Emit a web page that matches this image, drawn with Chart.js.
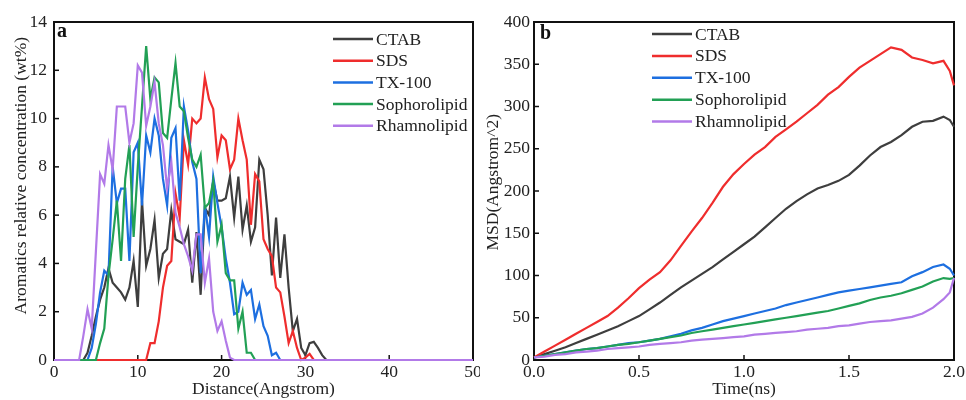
<!DOCTYPE html>
<html>
<head>
<meta charset="utf-8">
<script src="https://cdn.jsdelivr.net/npm/chart.js@4.4.0/dist/chart.umd.min.js"></script>
<style>
  body { margin: 0; background: #fff; }
  #wrap { position: relative; width: 966px; height: 400px; }
  #chartA { position: absolute; left: 0; top: 0; }
  #chartB { position: absolute; left: 480px; top: 0; }
</style>
</head>
<body>
<div id="wrap">
  <canvas id="chartA" width="480" height="400"></canvas>
  <canvas id="chartB" width="486" height="400"></canvas>
</div>
<script>
// ---- data ----
const seriesNames = ['CTAB', 'SDS', 'TX-100', 'Sophorolipid', 'Rhamnolipid'];
const seriesColors = ['#3e3e3e', '#ef2d2d', '#1d6fe0', '#22a055', '#b27ae8'];

// panel a: distance (Angstrom)
const distance = [0,
  3, 3.5, 4, 4.5, 5, 5.5, 6, 6.5, 7, 7.5, 8, 8.5, 9, 9.5, 10, 10.5, 11, 11.5, 12, 12.5,
  13, 13.5, 14, 14.5, 15, 15.5, 16, 16.5, 17, 17.5, 18, 18.5, 19, 19.5, 20, 20.5, 21, 21.5, 22, 22.5,
  23, 23.5, 24, 24.5, 25, 25.5, 26, 26.5, 27, 27.5, 28, 28.5, 29, 29.5, 30, 30.5, 31, 31.5, 32, 32.5, 33,
  50];
const ctabConc = [0,
  0, 0, 0.3, 1.0, 1.8, 2.5, 3.0, 3.8, 3.2, 3.0, 2.8, 2.5, 3.0, 4.1, 2.2, 6.6, 3.9, 4.6, 5.8, 3.4,
  4.4, 4.6, 6.2, 5.0, 4.9, 4.8, 5.4, 3.2, 5.3, 2.7, 6.3, 6.0, 7.4, 6.6, 6.6, 6.7, 7.6, 5.9, 7.6, 5.4,
  6.4, 4.9, 5.5, 8.3, 7.9, 6.0, 3.5, 5.9, 3.4, 5.2, 3.0, 1.2, 1.7, 0.5, 0.2, 0.7, 0.75, 0.5, 0.2, 0, 0,
  0];
const sdsConc = [0,
  0, 0, 0, 0, 0, 0, 0, 0, 0, 0, 0, 0, 0, 0, 0, 0, 0, 0.7, 0.7, 1.6,
  3.0, 3.9, 4.1, 6.9, 5.9, 9.1, 8.1, 10.0, 9.8, 10.0, 11.7, 10.8, 10.4, 8.4, 9.3, 9.1, 7.9, 8.3, 10.0, 9.1,
  8.3, 5.6, 7.7, 7.4, 5.0, 4.6, 4.3, 3.0, 2.8, 1.8, 0.7, 1.2, 0.5, 0, 0.1, 0.25, 0, 0, 0, 0, 0,
  0];
const txConc = [0,
  0, 0, 0, 0.5, 1.5, 2.8, 3.7, 3.5, 8.0, 6.5, 7.1, 7.1, 4.1, 8.6, 9.0, 6.4, 9.3, 8.6, 10.0, 9.3,
  7.5, 6.4, 9.2, 9.6, 6.6, 10.5, 9.5, 8.2, 7.5, 3.6, 6.4, 5.1, 7.6, 6.5, 5.5, 4.2, 3.2, 1.9, 2.0, 3.2,
  2.7, 2.9, 1.7, 2.3, 1.4, 1.0, 0.2, 0.3, 0, 0, 0, 0, 0, 0, 0, 0, 0, 0, 0, 0, 0,
  0];
const sophoConc = [0,
  0, 0, 0, 0, 0, 0.7, 1.3, 3.5, 5.0, 6.6, 4.1, 7.5, 8.9, 5.1, 8.0, 10.5, 13.0, 10.8, 11.7, 11.5,
  9.4, 9.2, 10.8, 12.3, 10.5, 10.3, 9.2, 8.3, 8.0, 8.5, 6.3, 6.5, 7.4, 4.9, 5.6, 3.6, 3.3, 3.3, 1.3, 2.0,
  0.3, 0.3, 0, 0, 0, 0, 0, 0, 0, 0, 0, 0, 0, 0, 0, 0, 0, 0, 0, 0, 0,
  0];
const rhamnoConc = [0,
  0, 1.0, 2.1, 1.3, 4.5, 7.7, 7.3, 8.9, 7.9, 10.5, 10.5, 10.5, 9.0, 9.8, 12.2, 11.9, 9.7, 10.5, 11.5, 9.8,
  8.9, 7.1, 8.2, 6.1, 5.5, 4.8, 4.3, 3.7, 5.2, 5.2, 3.2, 4.2, 2.0, 1.2, 1.6, 0.8, 0.1, 0, 0, 0,
  0, 0, 0, 0, 0, 0, 0, 0, 0, 0, 0, 0, 0, 0, 0, 0, 0, 0, 0, 0, 0,
  0];

// panel b: time (ns)
const time = [0, 0.05, 0.1, 0.15, 0.2, 0.25, 0.3, 0.35, 0.4, 0.45, 0.5, 0.55, 0.6, 0.65, 0.7, 0.75,
  0.8, 0.85, 0.9, 0.95, 1.0, 1.05, 1.1, 1.15, 1.2, 1.25, 1.3, 1.35, 1.4, 1.45, 1.5, 1.55,
  1.6, 1.65, 1.7, 1.75, 1.8, 1.85, 1.9, 1.95, 1.98, 2.0];
const ctabMsd = [3, 7, 11, 15, 20, 25, 30, 35, 40, 46, 52, 60, 68, 77, 86, 94,
  102, 110, 119, 128, 137, 146, 157, 168, 179, 188, 196, 203, 207, 212, 219, 230,
  242, 252, 258, 266, 276, 282, 283, 288, 284, 276];
const sdsMsd = [3, 10, 17, 24, 31, 38, 45, 52, 62, 73, 85, 95, 104, 118, 135, 152,
  168, 186, 205, 220, 232, 243, 252, 264, 273, 282, 292, 302, 314, 323, 335, 346,
  354, 362, 370, 367, 358, 355, 351, 354, 342, 325];
const txMsd = [3, 5, 7, 9, 11, 13, 14, 16, 18, 20, 21, 23, 25, 28, 31, 35,
  38, 42, 46, 49, 52, 55, 58, 61, 65, 68, 71, 74, 77, 80, 82, 84,
  86, 88, 90, 92, 99, 104, 110, 113, 108, 100];
const sophoMsd = [3, 5, 7, 9, 11, 13, 14, 16, 18, 19, 21, 23, 25, 27, 29, 32,
  34, 36, 38, 40, 42, 44, 46, 48, 50, 52, 54, 56, 58, 61, 64, 67,
  71, 74, 76, 79, 83, 87, 93, 97, 96, 97];
const rhamnoMsd = [3, 4, 6, 7, 9, 10, 11, 13, 14, 15, 16, 18, 19, 20, 21, 23,
  24, 25, 26, 27, 28, 30, 31, 32, 33, 34, 36, 37, 38, 40, 41, 43,
  45, 46, 47, 49, 51, 55, 62, 72, 80, 97];

Chart.defaults.font.family = "'Liberation Serif', 'Times New Roman', serif";
Chart.defaults.font.size = 17.5;
Chart.defaults.color = '#222';

function buildDatasets(xs, lists) {
  return lists.map((ys, i) => ({
    label: seriesNames[i],
    data: xs.map((x, k) => ({ x: x, y: ys[k] })),
    borderColor: seriesColors[i],
    backgroundColor: seriesColors[i],
    borderWidth: 2.2,
    pointRadius: 0,
    tension: 0,
    clip: false,
    order: 5 - i   // last series drawn on top, like the original
  }));
}

// frame, inward ticks, panel letter and legend inside the plot
const framePlugin = {
  id: 'frame',
  beforeDatasetsDraw(chart, args, opts) {
    const { ctx, chartArea: a, scales: { x, y } } = chart;
    ctx.save();
    ctx.strokeStyle = '#111';
    ctx.lineWidth = 2;
    ctx.strokeRect(a.left, a.top, a.right - a.left, a.bottom - a.top);
    ctx.lineWidth = 1.5;
    x.ticks.forEach(t => {
      const px = x.getPixelForValue(t.value);
      ctx.beginPath(); ctx.moveTo(px, a.bottom); ctx.lineTo(px, a.bottom - 5); ctx.stroke();
    });
    y.ticks.forEach(t => {
      const py = y.getPixelForValue(t.value);
      ctx.beginPath(); ctx.moveTo(a.left, py); ctx.lineTo(a.left + 5, py); ctx.stroke();
    });
    ctx.restore();
  },
  afterDatasetsDraw(chart, args, opts) {
    const ctx = chart.ctx;
    ctx.save();
    ctx.fillStyle = '#111';
    ctx.font = "bold 20px 'Liberation Serif', serif";
    ctx.textBaseline = 'alphabetic';
    ctx.fillText(opts.letter, opts.letterX, opts.letterY);
    ctx.font = "17.5px 'Liberation Serif', serif";
    ctx.textBaseline = 'middle';
    chart.data.datasets.forEach((ds, i) => {
      const yy = opts.legendY + i * opts.rowGap;
      ctx.strokeStyle = ds.borderColor;
      ctx.lineWidth = 2.5;
      ctx.beginPath(); ctx.moveTo(opts.legendX, yy); ctx.lineTo(opts.legendX + 40, yy); ctx.stroke();
      ctx.fillStyle = '#222';
      ctx.fillText(ds.label, opts.legendX + 43, yy + 1);
    });
    ctx.restore();
  }
};

function makeChart(id, xs, lists, cfg) {
  return new Chart(document.getElementById(id), {
    type: 'line',
    data: { datasets: buildDatasets(xs, lists) },
    plugins: [framePlugin],
    options: {
      responsive: false,
      animation: false,
      devicePixelRatio: 1,
      layout: { padding: { left: 0, right: cfg.padRight, top: 22, bottom: 0 } },
      plugins: {
        legend: { display: false },
        tooltip: { enabled: false },
        frame: cfg.frame
      },
      scales: {
        x: {
          type: 'linear',
          min: cfg.xMin, max: cfg.xMax,
          grid: { display: false, drawTicks: false },
          border: { display: false },
          ticks: { stepSize: cfg.xStep, padding: 2, maxRotation: 0, autoSkip: false, callback: cfg.xFmt },
          title: { display: true, text: cfg.xTitle, padding: 0 },
          afterFit(s) { s.height = 40; s.paddingLeft = 0; s.paddingRight = 0; }
        },
        y: {
          min: cfg.yMin, max: cfg.yMax,
          grid: { display: false, drawTicks: false },
          border: { display: false },
          ticks: { stepSize: cfg.yStep, padding: cfg.yTickPad, autoSkip: false },
          title: { display: true, text: cfg.yTitle, padding: { top: cfg.yTitlePad, bottom: 0 } },
          afterFit(s) { s.width = 54; s.paddingTop = 0; s.paddingBottom = 0; }
        }
      }
    }
  });
}

// leading spaces nudge the rotated titles upward, as in the original figure
makeChart('chartA', distance, [ctabConc, sdsConc, txConc, sophoConc, rhamnoConc], {
  padRight: 7,
  xMin: 0, xMax: 50, xStep: 10, xFmt: v => v,
  yMin: 0, yMax: 14, yStep: 2, yTickPad: 7,
  xTitle: 'Distance(Angstrom)',
  yTitle: '       Aromatics relative concentration (wt%)',
  yTitlePad: 10.5,
  frame: { letter: 'a', letterX: 57, letterY: 37, legendX: 333, legendY: 39, rowGap: 21.7 }
});

makeChart('chartB', time, [ctabMsd, sdsMsd, txMsd, sophoMsd, rhamnoMsd], {
  padRight: 12,
  xMin: 0, xMax: 2, xStep: 0.5, xFmt: v => Number(v).toFixed(1),
  yMin: 0, yMax: 400, yStep: 50, yTickPad: 4,
  xTitle: 'Time(ns)',
  yTitle: '    MSD(Angstrom^2)',
  yTitlePad: 3,
  frame: { letter: 'b', letterX: 60, letterY: 39, legendX: 172, legendY: 34, rowGap: 21.9 }
});
</script>
</body>
</html>
